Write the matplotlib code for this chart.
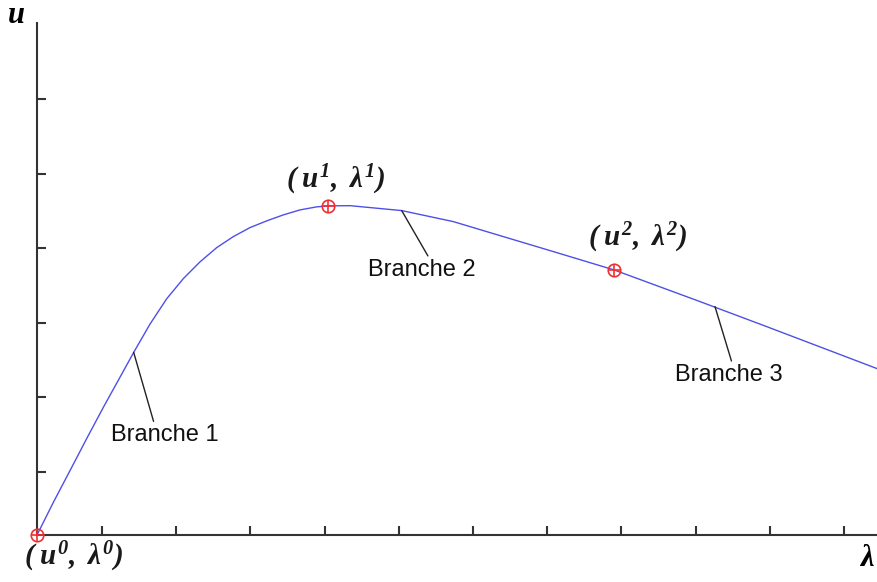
import numpy as np
import matplotlib.pyplot as plt

plt.rcParams['mathtext.fontset'] = 'custom'
plt.rcParams['mathtext.rm'] = 'Liberation Serif:italic:bold'
plt.rcParams['mathtext.it'] = 'Liberation Serif:italic:bold'

# Curve (lambda, u)
lam = [0.0, 0.225, 0.449, 0.674, 0.899, 1.123, 1.303, 1.523, 1.748, 1.972,
       2.197, 2.422, 2.646, 2.871, 3.096, 3.319, 3.544, 3.770, 3.922, 4.218,
       4.915, 5.611, 6.284, 6.958, 7.776, 8.935, 9.834, 11.334]
u = [0.0, 0.447, 0.872, 1.302, 1.722, 2.125, 2.45, 2.83, 3.17, 3.44,
     3.665, 3.856, 4.004, 4.125, 4.215, 4.295, 4.362, 4.403, 4.416, 4.419,
     4.353, 4.205, 4.004, 3.803, 3.557, 3.132, 2.796, 2.228]

# Special points (u^k, lambda^k)
pt_lam = [0.0, 3.922, 7.776]
pt_u = [0.0, 4.416, 3.557]
pt_labels = [r'$(\;u^0,\ \lambda^0)$', r'$(\;u^1,\ \lambda^1)$', r'$(\;u^2,\ \lambda^2)$']
pt_label_pos = [(0.50, -0.30), (4.02, 4.77), (8.10, 3.99)]

# Branch labels: point on the curve, text position, where the leader meets the text
branch_names = ['Branche 1', 'Branche 2', 'Branche 3']
branch_xy = [(1.303, 2.45), (4.915, 4.353), (9.137, 3.065)]
branch_text = [(1.725, 1.34), (5.185, 3.56), (9.326, 2.15)]
branch_rel = [0.41, 0.59, 0.54]

x_ticks = 0.876 + np.arange(11)
y_ticks = 0.85 + np.arange(6)

fig = plt.figure(figsize=(8.78, 5.82), dpi=100)
ax = fig.add_axes([37 / 878, 47 / 582, 841 / 878, 512 / 582])

ax.plot(lam, u, color='#4f4fe8', lw=1.0)

# red circled-plus markers
ax.plot(pt_lam, pt_u, 'o', ms=9, mfc='none', mec='#f03030', mew=1.2, clip_on=False, zorder=5)
ax.plot(pt_lam, pt_u, '+', ms=9, color='#f03030', mew=1.2, clip_on=False, zorder=5)

for lab, (tx, ty) in zip(pt_labels, pt_label_pos):
    ax.text(tx, ty, lab, fontsize=21, ha='center', va='center', color='#1a1a1a')

for name, xy, xt, rel in zip(branch_names, branch_xy, branch_text, branch_rel):
    ax.annotate(name, xy=xy, xytext=xt, fontsize=17, family='Liberation Sans',
                ha='center', va='center', color='#111111',
                arrowprops=dict(arrowstyle='-', color='#222222', lw=1.0,
                                shrinkA=0, shrinkB=0, relpos=(rel, 0.85)))

# axis labels
ax.text(-0.28, 6.98, r'$u$', fontsize=22, ha='center', va='center')
ax.text(11.19, -0.30, r'$\lambda$', fontsize=22, ha='center', va='center')

ax.set_xlim(0, 11.334)
ax.set_ylim(0, 6.87)
ax.set_xticks(x_ticks)
ax.set_yticks(y_ticks)
ax.set_xticklabels([])
ax.set_yticklabels([])
ax.tick_params(direction='in', length=6.5, width=1.5, color='#333333')
for s in ['top', 'right']:
    ax.spines[s].set_visible(False)
for s in ['left', 'bottom']:
    ax.spines[s].set_color('#333333')
    ax.spines[s].set_linewidth(1.5)

fig.savefig('out.png', dpi=100)
